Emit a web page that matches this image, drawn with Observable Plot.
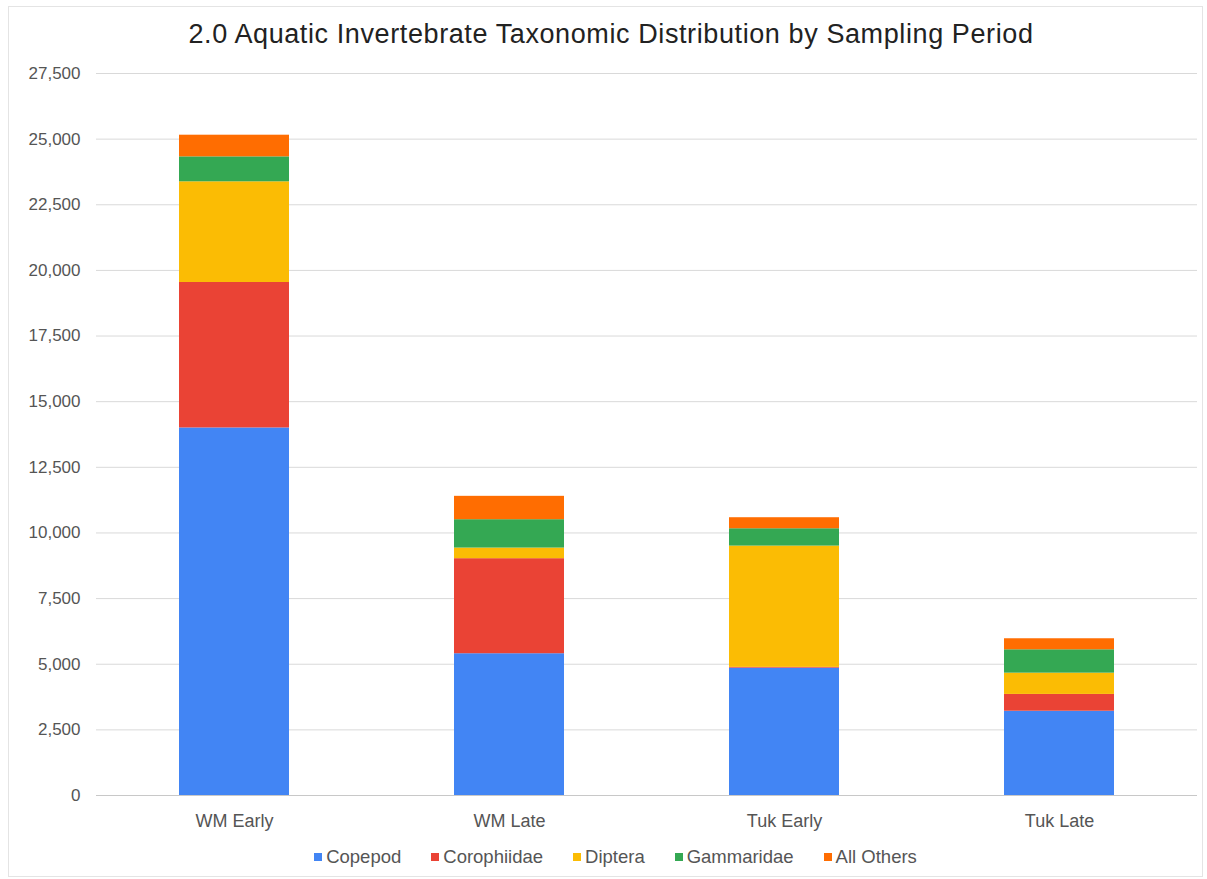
<!DOCTYPE html>
<html>
<head>
<meta charset="utf-8">
<script src="https://cdn.jsdelivr.net/npm/d3@7"></script>
<script src="https://cdn.jsdelivr.net/npm/@observablehq/plot@0.6"></script>
<style>
  html, body { margin: 0; padding: 0; background: #fff; }
  #wrap { position: relative; width: 1207px; height: 879px; font-family: Arial, "Liberation Sans", sans-serif; overflow: hidden; }
  #frame { position: absolute; left: 8px; top: 6px; right: 4px; bottom: 2px; border: 1px solid #e4e4e4; pointer-events: none; }
  #title { position: absolute; left: 0; top: 19px; width: 1222px; text-align: center; font-size: 27px; letter-spacing: 0.6px; color: #222; white-space: nowrap; }
  #chart { position: absolute; left: 0; top: 55px; }
  #legend { position: absolute; left: 0; top: 846px; width: 1231px; text-align: center; font-size: 18.5px; line-height: 21px; color: #555; white-space: nowrap; }
  #legend span.item { display: inline-block; margin: 0 15px; }
  #legend span.sw { display: inline-block; width: 8px; height: 8px; margin-right: 4px; vertical-align: 2px; }
</style>
</head>
<body>
<div id="wrap">
  <div id="frame"></div>
  <div id="title">2.0 Aquatic Invertebrate Taxonomic Distribution by Sampling Period</div>
  <div id="chart"></div>
  <div id="legend"></div>
</div>
<script>
const periods = ["WM Early", "WM Late", "Tuk Early", "Tuk Late"];
const taxa = ["Copepod", "Corophiidae", "Diptera", "Gammaridae", "All Others"];
const copepod     = [14000, 5400, 4850, 3210];
const corophiidae = [5540, 3620, 30, 640];
const diptera     = [3835, 405, 4620, 810];
const gammaridae  = [950, 1080, 660, 890];
const allOthers   = [825, 890, 420, 420];
const colors = ["#4285F4", "#EA4335", "#FBBC04", "#34A853", "#FF6D01"];
const yTicks = [0, 2500, 5000, 7500, 10000, 12500, 15000, 17500, 20000, 22500, 25000, 27500];

const series = [copepod, corophiidae, diptera, gammaridae, allOthers];
const data = [];
taxa.forEach((t, i) => periods.forEach((p, j) => data.push({period: p, taxon: t, value: series[i][j]})));

const chart = Plot.plot({
  width: 1207,
  height: 790,
  marginTop: 18,
  marginBottom: 50,
  marginLeft: 96,
  marginRight: 10,
  style: {fontFamily: "Arial, 'Liberation Sans', sans-serif", fontSize: "17px", color: "#555", background: "transparent"},
  x: {domain: periods, paddingInner: 0.6, paddingOuter: 0.3, label: null, tickSize: 0, tickPadding: 19},
  y: {domain: [0, 27500], ticks: yTicks, tickFormat: d3.format(","), label: null, tickSize: 0, tickPadding: 16},
  color: {domain: taxa, range: colors},
  marks: [
    Plot.gridY(yTicks, {stroke: "#d9d9d9", strokeOpacity: 1}),
    Plot.ruleY([0], {stroke: "#c8c8c8"}),
    Plot.barY(data, {x: "period", y: "value", fill: "taxon", order: taxa}),
    Plot.axisX({tickSize: 0, tickPadding: 19, fontSize: 18, label: null})
  ]
});
document.getElementById("chart").appendChild(chart);

const legend = document.getElementById("legend");
taxa.forEach((t, i) => {
  const item = document.createElement("span");
  item.className = "item";
  const sw = document.createElement("span");
  sw.className = "sw";
  sw.style.background = colors[i];
  item.appendChild(sw);
  item.appendChild(document.createTextNode(t));
  legend.appendChild(item);
});
</script>
</body>
</html>
